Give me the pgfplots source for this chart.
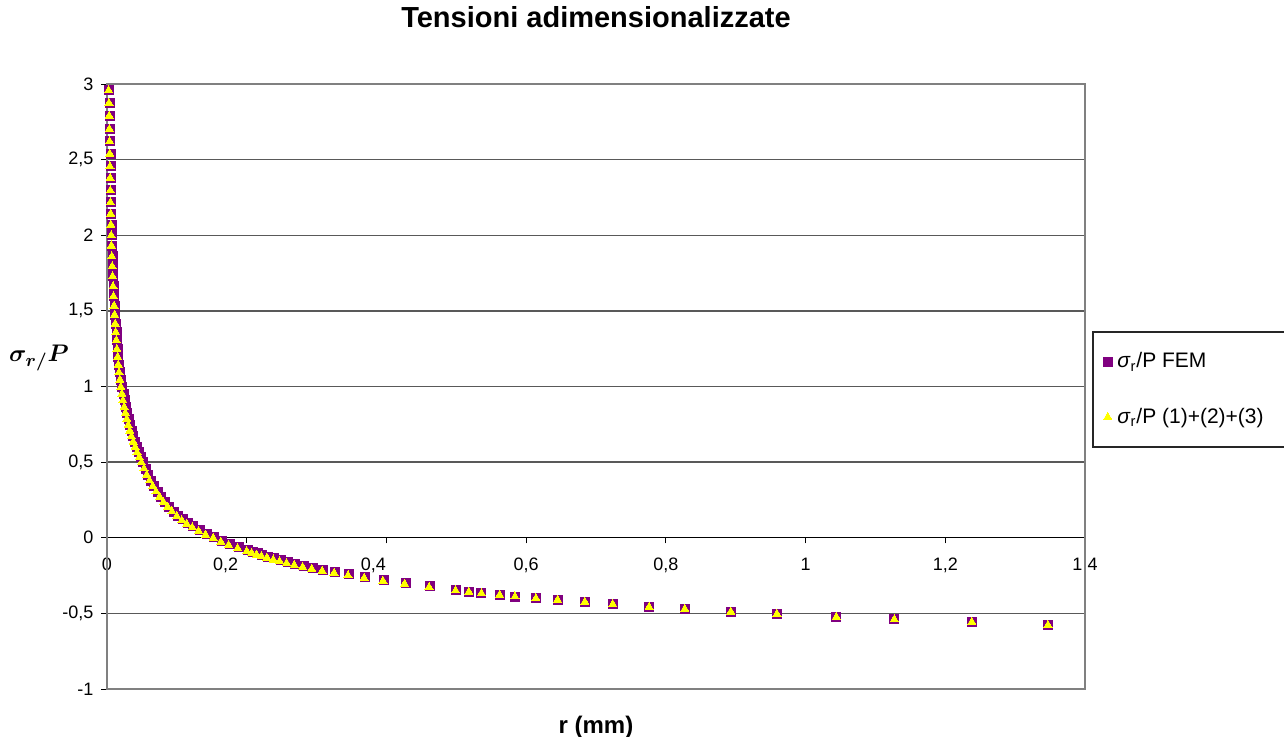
\documentclass[border=0pt]{standalone}
\usepackage{fontspec}
\setmainfont{Liberation Sans}
\usepackage{bm}
\usepackage{pgfplots}
\pgfplotsset{compat=1.18}

\definecolor{femPurple}{HTML}{800080}
\definecolor{anYellow}{HTML}{FFFF00}
\definecolor{frameGray}{HTML}{808080}

% sigma_r / P, FEM solution
\pgfplotstableread{
x y
0.0035 2.958
0.0040 2.874
0.0043 2.790
0.0046 2.702
0.0049 2.620
0.0051 2.539
0.0054 2.455
0.0056 2.378
0.0059 2.296
0.0061 2.217
0.0064 2.142
0.0068 2.069
0.0072 1.999
0.0075 1.931
0.0081 1.860
0.0086 1.794
0.0092 1.728
0.0099 1.662
0.0105 1.596
0.0113 1.534
0.0120 1.474
0.0129 1.415
0.0137 1.358
0.0145 1.305
0.0154 1.247
0.0164 1.195
0.0173 1.144
0.0184 1.093
0.0197 1.045
0.0211 0.996
0.0238 0.952
0.0253 0.908
0.0270 0.864
0.0288 0.824
0.0308 0.785
0.0328 0.745
0.0351 0.707
0.0375 0.670
0.0400 0.635
0.0427 0.599
0.0455 0.564
0.0485 0.531
0.0518 0.498
0.0554 0.457
0.0593 0.416
0.0634 0.378
0.0679 0.341
0.0726 0.305
0.0778 0.270
0.0833 0.236
0.0892 0.204
0.0955 0.173
0.1023 0.143
0.1085 0.122
0.1155 0.100
0.1235 0.076
0.1325 0.052
0.1425 0.028
0.1535 0.006
0.1645 -0.019
0.1755 -0.040
0.1885 -0.062
0.2015 -0.082
0.2085 -0.093
0.2155 -0.104
0.2225 -0.114
0.2305 -0.125
0.2395 -0.137
0.2485 -0.148
0.2585 -0.160
0.2695 -0.173
0.2815 -0.186
0.2945 -0.198
0.3095 -0.211
0.3265 -0.225
0.3465 -0.241
0.3695 -0.258
0.3965 -0.278
0.4275 -0.299
0.4625 -0.322
0.4990 -0.346
0.5180 -0.356
0.5360 -0.367
0.5620 -0.378
0.5840 -0.389
0.6140 -0.400
0.6450 -0.411
0.6840 -0.424
0.7240 -0.440
0.7760 -0.458
0.8270 -0.471
0.8930 -0.489
0.9590 -0.504
1.0440 -0.524
1.1270 -0.540
1.2380 -0.557
1.3470 -0.577
}\femdata

% sigma_r / P, analytical solution (1)+(2)+(3)
\pgfplotstableread{
x y
0.0023 2.958
0.0028 2.874
0.0031 2.790
0.0034 2.702
0.0037 2.620
0.0039 2.539
0.0042 2.455
0.0044 2.378
0.0047 2.296
0.0049 2.217
0.0052 2.142
0.0056 2.069
0.0060 1.999
0.0063 1.931
0.0069 1.860
0.0074 1.794
0.0080 1.728
0.0087 1.662
0.0093 1.596
0.0101 1.534
0.0108 1.474
0.0117 1.415
0.0125 1.358
0.0133 1.305
0.0142 1.247
0.0152 1.195
0.0161 1.144
0.0172 1.093
0.0185 1.045
0.0199 0.996
0.0213 0.952
0.0228 0.908
0.0245 0.864
0.0263 0.824
0.0283 0.785
0.0303 0.745
0.0326 0.707
0.0350 0.670
0.0375 0.635
0.0402 0.599
0.0430 0.564
0.0460 0.531
0.0493 0.498
0.0529 0.457
0.0568 0.416
0.0609 0.378
0.0654 0.341
0.0701 0.305
0.0753 0.270
0.0808 0.236
0.0867 0.204
0.0930 0.173
0.0998 0.143
0.1070 0.114
0.1140 0.092
0.1220 0.068
0.1310 0.044
0.1410 0.020
0.1520 -0.002
0.1630 -0.027
0.1740 -0.048
0.1870 -0.070
0.2000 -0.090
0.2070 -0.101
0.2140 -0.112
0.2210 -0.122
0.2290 -0.133
0.2380 -0.145
0.2470 -0.156
0.2570 -0.168
0.2680 -0.181
0.2800 -0.194
0.2930 -0.206
0.3080 -0.219
0.3250 -0.233
0.3450 -0.249
0.3680 -0.266
0.3950 -0.285
0.4260 -0.305
0.4610 -0.327
0.4990 -0.349
0.5180 -0.358
0.5360 -0.367
0.5620 -0.378
0.5840 -0.389
0.6140 -0.400
0.6450 -0.411
0.6840 -0.424
0.7240 -0.440
0.7760 -0.458
0.8270 -0.471
0.8930 -0.489
0.9590 -0.504
1.0440 -0.524
1.1270 -0.540
1.2380 -0.557
1.3470 -0.577
}\anadata

\begin{document}
\begin{tikzpicture}
\useasboundingbox (-53.5pt,-23.5pt) rectangle (588.5pt,344.5pt);
\begin{axis}[
  scale only axis,
  width=489pt, height=302.5pt,
  xmin=0, xmax=1.4, ymin=-1, ymax=3,
  clip=false,
  axis x line*=middle,
  axis y line*=left,
  hide obscured x ticks=false,
  hide obscured y ticks=false,
  axis line style={black, line width=0.5pt},
  tick align=outside,
  major tick length=2.75pt,
  tick style={black, line width=0.5pt},
  xtick={0,0.2,0.4,0.6,0.8,1,1.2,1.4},
  xticklabels={0,{0,2\hspace*{21pt}},{0,4\hspace*{13pt}},{0,6},{0,8},1,{1,2},{1,4}},
  ytick={-1,-0.5,0,0.5,1,1.5,2,2.5,3},
  yticklabels={-1,{-0,5},0,{0,5},1,{1,5},2,{2,5},3},
  tick label style={font=\fontsize{9}{10.8}\selectfont},
  xticklabel style={yshift=-4pt},
  yticklabel style={xshift=-0.5pt},
  ymajorgrids,
  major grid style={black!65, line width=0.7pt},
  title={Tensioni adimensionalizzate},
  title style={font=\bfseries\fontsize{14.5}{17}\selectfont,
    at={(axis description cs:0.5,1)}, anchor=center, yshift=27.5pt},
  xlabel={r (mm)},
  xlabel style={font=\bfseries\fontsize{12}{14}\selectfont,
    at={(axis description cs:0.5,0)}, anchor=center, yshift=-19pt},
  ylabel={$\bm{\sigma_{r/}P}$},
  ylabel style={font=\fontsize{12.5}{15}\selectfont, rotate=-90,
    at={(axis description cs:-0.0695,0.547)}, anchor=center},
  legend cell align=left,
  legend style={at={(axis description cs:1,0.5934)}, anchor=north west,
    xshift=3.5pt, yshift=-0.5pt, draw=black!85, line width=0.75pt, fill=white,
    font=\fontsize{10.5}{12.5}\selectfont,
    inner xsep=5.25pt, inner ysep=8.5pt, row sep=14.5pt, column sep=0.5pt},
  legend image code/.code={\draw[#1] plot coordinates {(0pt,0pt)};},
]
\draw[frameGray, line width=0.75pt] (rel axis cs:0,0) rectangle (rel axis cs:1,1);
\addplot[only marks, mark=square*, mark size=2.25pt,
  mark options={draw=femPurple, fill=femPurple, line width=0pt}]
  table[x=x, y=y] {\femdata};
\addlegendentry{\makebox[95pt][l]{\textit{σ}\textsubscript{r}/P FEM}}
\addplot[only marks, mark=triangle*, mark size=2.35pt,
  mark options={draw=anYellow, fill=anYellow, line width=0pt}]
  table[x=x, y=y] {\anadata};
\addlegendentry{\makebox[95pt][l]{\textit{σ}\textsubscript{r}/P (1)+(2)+(3)}}
\end{axis}
\end{tikzpicture}
\end{document}
